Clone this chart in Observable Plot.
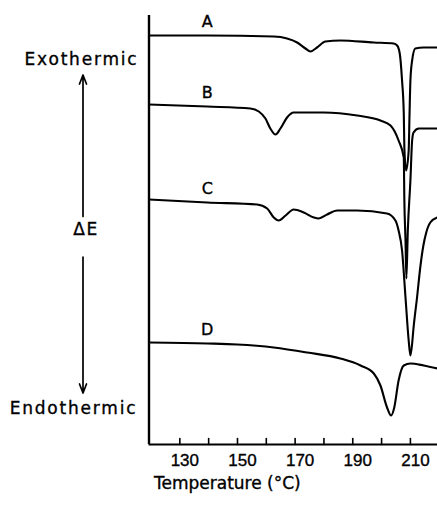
<!DOCTYPE html>
<html><head><meta charset="utf-8">
<script src="https://cdn.jsdelivr.net/npm/d3@7"></script>
<script src="https://cdn.jsdelivr.net/npm/@observablehq/plot@0.6"></script>
<style>
html,body{margin:0;padding:0;background:#fff;overflow:hidden}
svg text{stroke:black;stroke-width:0.35px}
.side text{letter-spacing:1.8px}
.delta text{letter-spacing:1.5px}
</style>
</head><body><div id="chart"></div>
<script>
// Temperature (°C) and ΔE signal (arbitrary units) for each DSC trace
const tempA = [119.3,139.5,162.6,167.2,170.7,173.6,175.3,177.6,180.5,185.7,197.3,204.2,205.4,206.3,207.1,207.7,207.9,208.5,209.4,209.7,210.0,210.6,211.7,214.6,219.3];
const sigA  = [40.9,40.9,40.8,40.6,40.2,39.6,39.3,39.7,40.3,40.4,40.2,40.1,39.9,39.1,36.4,33.1,29.7,27.4,29.4,33.1,36.4,38.4,39.6,39.7,39.7];

const tempB = [119.3,139.5,154.5,157.4,159.7,161.4,163.2,164.9,167.2,169.5,179.9,191.5,199.6,203.1,205.9,207.7,207.9,208.3,208.6,209.1,210.0,210.6,211.1,212.9,219.3];
const sigB  = [34.0,33.8,33.6,33.3,32.6,31.6,31.0,31.6,32.7,33.2,33.2,32.9,32.4,31.9,30.4,28.7,24.4,20.4,16.6,21.4,26.4,30.4,31.2,31.6,31.6];

const tempC = [119.3,139.5,156.8,160.3,162.6,164.3,166.7,169.5,173.0,176.5,178.2,181.1,184.6,191.5,201.9,204.8,205.9,207.1,208.3,209.4,210.0,210.6,211.0,212.3,213.5,214.5,215.5,216.9,219.3];
const sigC  = [24.5,24.2,24.0,23.6,22.7,22.4,22.9,23.5,23.2,22.7,22.6,23.0,23.4,23.4,23.1,22.4,21.4,19.4,14.7,10.4,8.9,10.1,11.4,14.7,17.9,19.9,21.2,22.2,22.7];

const tempD = [119.3,139.5,149.9,162.6,174.2,185.7,192.7,197.3,199.6,201.9,203.3,204.4,205.9,207.7,210.0,214.6,219.3];
const sigD  = [10.2,10.1,10.0,9.7,9.2,8.6,7.9,7.1,5.9,3.7,2.9,3.7,6.4,7.9,8.1,7.9,7.6];

const curveNames = ["A","B","C","D"];
const labelTemp = 139.5;
const tickValues = [130,140,150,160,170,180,190,200,210];
const tickLabels = [130,150,170,190,210];
const xDomain = [119.3, 219.4];
const yDomain = [0, 42.9];
const xTitle = "Temperature (°C)";
const topLabel = "Exothermic";
const midLabel = "ΔE";
const bottomLabel = "Endothermic";

const series = [[tempA,sigA],[tempB,sigB],[tempC,sigC],[tempD,sigD]];
const rows = series.flatMap(([t,s],i) => t.map((T,j) => ({curve: curveNames[i], T, v: s[j]})));
const labelRows = series.map(([t,s],i) => {
  let j = d3.minIndex(t, T => Math.abs(T - labelTemp));
  return {curve: curveNames[i], T: t[j], v: s[j]};
});

// plain inward tick: a straight segment pointing up from the axis
const tickShape = {draw(context, l) { context.moveTo(0, 0); context.lineTo(0, -l); }};

function sideArrows(index, scales, values, dim) {
  const top = dim.marginTop, bottom = dim.height - dim.marginBottom;
  const mid = (top + bottom) / 2;
  const x = dim.marginLeft - 65.5;
  const g = d3.create("svg:g").attr("stroke","black").attr("fill","none")
    .attr("stroke-width",1.7).attr("stroke-linecap","round").attr("stroke-linejoin","round");
  const up1 = top + 60, up0 = mid - 13, dn0 = mid + 27.5, dn1 = bottom - 51;
  g.append("path").attr("d", `M${x},${up0}L${x},${up1}M${x-3.5},${up1+9}L${x},${up1}L${x+3.5},${up1+9}`);
  g.append("path").attr("d", `M${x},${dn0}L${x},${dn1}M${x-3.5},${dn1-9}L${x},${dn1}L${x+3.5},${dn1-9}`);
  return g.node();
}

const font = "DejaVu Sans";
const chart = Plot.plot({
  width: 437, height: 505,
  marginLeft: 148.5, marginRight: 0, marginTop: 15, marginBottom: 61,
  style: {fontFamily: font, fontSize: "17px", color: "black", background: "white"},
  x: {domain: xDomain, axis: null},
  y: {domain: yDomain, axis: null},
  marks: [
    Plot.vectorX(tickValues, {x: d => d, frameAnchor: "bottom", length: 6, rotate: 0, anchor: "start", shape: tickShape, strokeWidth: 1.6}),
    Plot.axisX({ticks: tickLabels, tickSize: 0, tickPadding: 9, dx: 5, label: null, fontFamily: "Liberation Sans", fontSize: 17}),
    Plot.ruleX([xDomain[0]], {strokeWidth: 2.4}),
    Plot.ruleY([yDomain[0]], {strokeWidth: 2.2}),
    Plot.line(rows, {x: "T", y: "v", z: "curve", curve: "monotone-x", stroke: "black", strokeWidth: 2.1}),
    Plot.text(labelRows, {x: "T", y: "v", text: "curve", dy: -14, fontSize: 16}),
    Plot.text([xTitle], {frameAnchor: "bottom-left", textAnchor: "start", dx: 5, dy: 44}),
    Plot.text([topLabel], {frameAnchor: "top-left", textAnchor: "middle", dx: -67.5, dy: 37, className: "side"}),
    Plot.text([midLabel], {frameAnchor: "left", textAnchor: "middle", dx: -63, dy: 0, className: "delta"}),
    Plot.text([bottomLabel], {frameAnchor: "bottom-left", textAnchor: "middle", dx: -75.5, dy: -31, className: "side"}),
    sideArrows
  ]
});
document.getElementById("chart").appendChild(chart);
</script>
</body></html>
